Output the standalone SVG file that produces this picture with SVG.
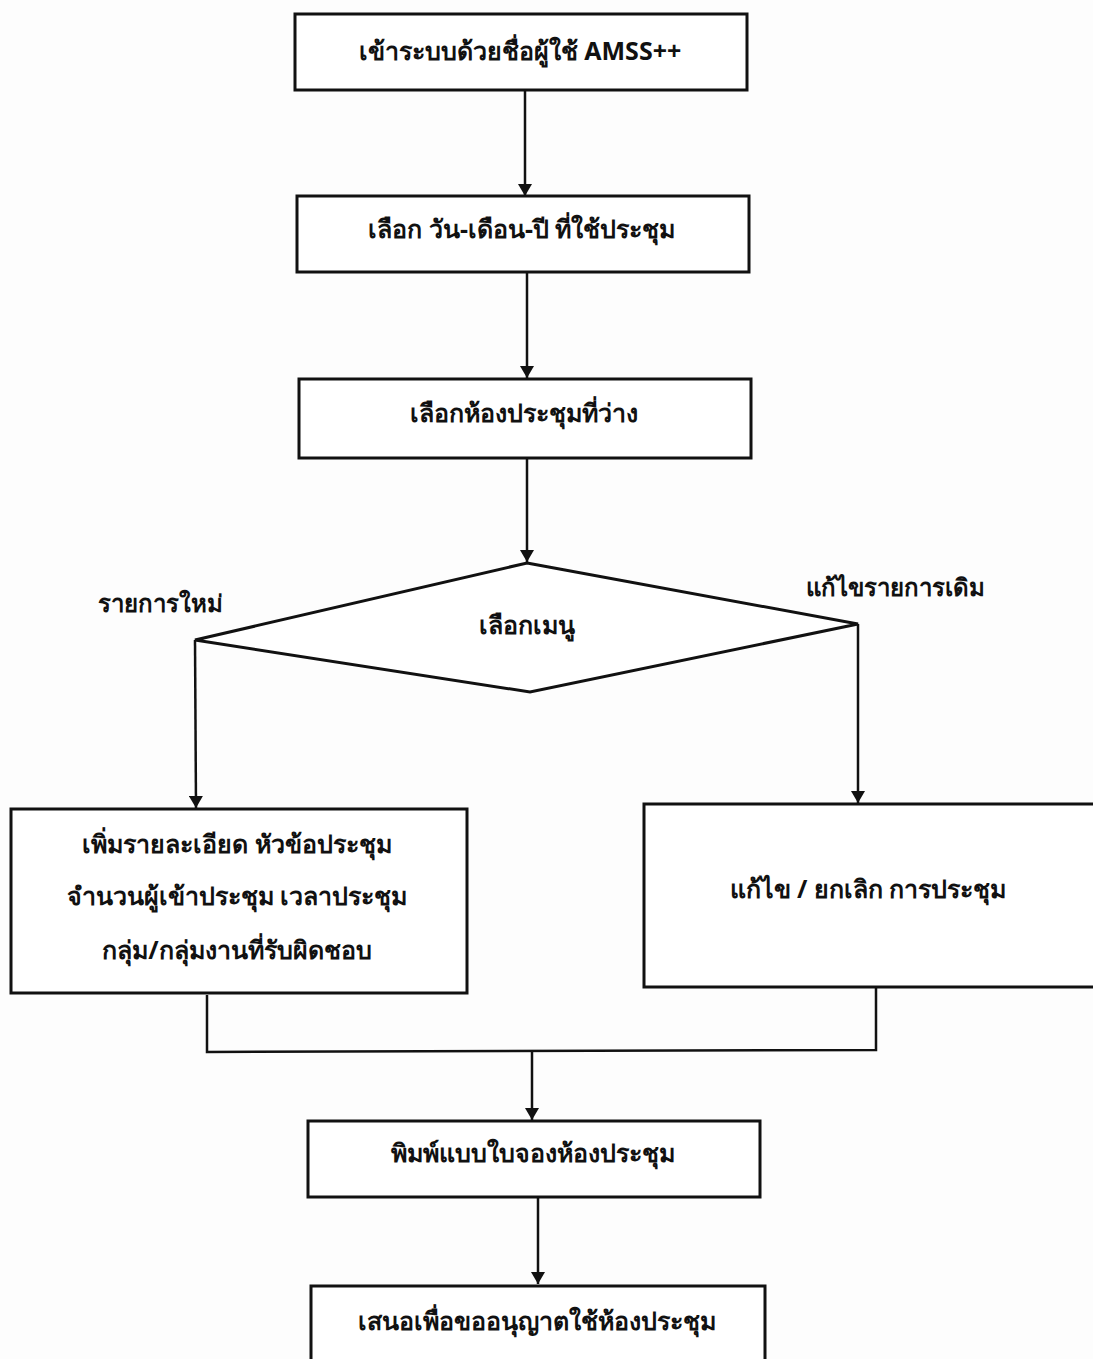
<svg xmlns="http://www.w3.org/2000/svg" width="1093" height="1359" viewBox="0 0 1093 1359">
<defs>
<marker id="ah" viewBox="0 0 12 14" refX="12" refY="7" markerWidth="12" markerHeight="14" markerUnits="userSpaceOnUse" orient="auto">
<path d="M0,0 L12,7 L0,14 Z" fill="#111"/>
</marker>
<style>
.box{fill:#fff;stroke:#111;stroke-width:3}
.t{font-family:"Noto Sans","DejaVu Sans","Liberation Sans",sans-serif;font-size:25px;font-weight:bold;fill:#111;text-anchor:middle}
.lbl{font-family:"Noto Sans","DejaVu Sans","Liberation Sans",sans-serif;font-size:24px;font-weight:bold;fill:#111}
.c{fill:none;stroke:#111;stroke-width:2.5}
</style>
</defs>
<rect width="1093" height="1359" fill="#fdfdfd"/>
<g id="connectors">
<line class="c" x1="525" y1="90" x2="525" y2="196" marker-end="url(#ah)"/>
<line class="c" x1="527" y1="272" x2="527" y2="378" marker-end="url(#ah)"/>
<line class="c" x1="527" y1="458" x2="527" y2="562" marker-end="url(#ah)"/>
<polyline class="c" points="195,640 196,808" marker-end="url(#ah)"/>
<polyline class="c" points="858,624 858,803" marker-end="url(#ah)"/>
<polyline class="c" points="207,995 207,1052 876,1050 876,987"/>
<line class="c" x1="532" y1="1051" x2="532" y2="1120" marker-end="url(#ah)"/>
<line class="c" x1="538" y1="1197" x2="538" y2="1284" marker-end="url(#ah)"/>
</g>
<g id="n1">
<rect class="box" x="295" y="14" width="452" height="76"/>
<text class="t" x="520" y="60">เข้าระบบด้วยชื่อผู้ใช้ AMSS++</text>
</g>
<g id="n2">
<rect class="box" x="297" y="196" width="452" height="76"/>
<text class="t" x="522" y="238">เลือก วัน-เดือน-ปี ที่ใช้ประชุม</text>
</g>
<g id="n3">
<rect class="box" x="299" y="379" width="452" height="79"/>
<text class="t" x="524" y="422">เลือกห้องประชุมที่ว่าง</text>
</g>
<g id="n4">
<polygon class="box" points="527,563 858,624 530,692 195,640"/>
<text class="t" x="527" y="634">เลือกเมนู</text>
</g>
<g id="lbl-new">
<text class="lbl" x="98" y="612">รายการใหม่</text>
</g>
<g id="lbl-edit">
<text class="lbl" x="806" y="596">แก้ไขรายการเดิม</text>
</g>
<g id="n5">
<rect class="box" x="11" y="809" width="456" height="184"/>
<text class="t" x="237" y="853">เพิ่มรายละเอียด หัวข้อประชุม</text>
<text class="t" x="237" y="905">จำนวนผู้เข้าประชุม เวลาประชุม</text>
<text class="t" x="237" y="959">กลุ่ม/กลุ่มงานที่รับผิดชอบ</text>
</g>
<g id="n6">
<rect class="box" x="644" y="804" width="460" height="183"/>
<text class="t" x="868" y="898">แก้ไข / ยกเลิก การประชุม</text>
</g>
<g id="n7">
<rect class="box" x="308" y="1121" width="452" height="76"/>
<text class="t" x="533" y="1162">พิมพ์แบบใบจองห้องประชุม</text>
</g>
<g id="n8">
<rect class="box" x="311" y="1286" width="454" height="90"/>
<text class="t" x="537" y="1330">เสนอเพื่อขออนุญาตใช้ห้องประชุม</text>
</g>
</svg>
